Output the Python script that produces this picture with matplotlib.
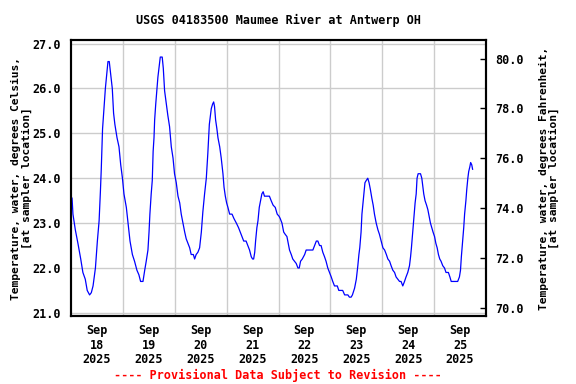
"""
USGS 04183500 Maumee River at Antwerp OH - water temperature, Sep 18-25 2025.
Saves out.png.
"""
import matplotlib
matplotlib.use("Agg")
import matplotlib.pyplot as plt

# hours since 2025-09-18 00:00
hours = [
    0.0, 0.5, 0.9, 2.0, 3.2, 4.5, 5.5, 6.6, 7.5, 8.6, 9.4, 10.2, 11.3, 12.2, 13.0,
    13.6, 14.0, 14.6, 15.2, 15.9, 16.5, 17.1, 17.7, 18.3, 19.1, 19.7, 20.3, 21.3,
    22.2, 23.0, 23.8, 24.5, 25.6, 26.4, 27.3, 28.4, 29.4, 30.5, 31.4, 32.2, 33.3,
    34.1, 34.8, 35.6, 36.1, 36.5, 37.1, 37.6, 38.0, 38.4, 38.7, 39.2, 39.8, 40.2,
    40.7, 41.3, 42.2, 42.7, 43.3, 44.1, 44.8, 45.6, 46.4, 47.2, 47.9, 48.7, 49.5,
    50.3, 51.0, 51.8, 52.6, 53.3, 54.1, 54.9, 55.6, 56.6, 57.2, 57.9, 58.7, 59.5,
    60.3, 61.0, 61.8, 62.6, 63.3, 64.0, 64.5, 64.9, 65.5, 66.0, 66.4, 66.9, 67.5,
    68.0, 68.8, 69.5, 70.3, 70.8, 71.4, 72.0, 72.6, 73.4, 74.5, 75.4, 76.5, 77.5,
    78.7, 79.9, 81.0, 81.8, 82.6, 83.4, 84.0, 84.5, 85.0, 85.4, 86.0, 86.5, 87.1,
    87.7, 88.3, 88.9, 89.5, 90.6, 91.8, 92.6, 93.5, 94.5, 95.4, 96.3, 96.8, 97.6,
    98.4, 99.1, 99.9, 100.3, 101.1, 101.9, 102.6, 103.4, 104.2, 105.0, 105.6,
    106.2, 107.0, 108.1, 108.8, 110.4, 111.9, 112.7, 113.5, 114.2, 115.0, 115.7,
    116.5, 117.3, 118.0, 118.8, 119.6, 120.4, 121.1, 121.9, 123.2, 123.9, 125.7,
    126.6, 128.1, 128.8, 129.6, 130.2, 131.2, 132.0, 132.7, 133.2, 133.6, 134.2,
    134.6, 135.1, 135.5, 136.0, 136.6, 137.3, 137.9, 138.5, 139.2, 139.8, 140.4,
    141.2, 142.0, 142.7, 143.5, 144.3, 145.1, 145.9, 146.6, 147.4, 148.1, 148.9,
    149.7, 150.4, 151.2, 152.0, 152.7, 153.5, 154.3, 155.0, 155.8, 156.6, 157.1,
    157.5, 158.1, 158.7, 159.2, 159.7, 160.1, 160.6, 161.7, 162.3, 162.8, 163.2,
    163.8, 164.5, 165.1, 165.7, 166.3, 166.9, 167.5, 168.2, 168.8, 169.4, 170.0,
    170.6, 171.2, 172.0, 172.8, 173.5, 174.6, 175.3, 175.9, 177.4, 178.9, 179.7,
    180.2, 180.6, 181.1, 181.7, 182.1, 182.7, 183.1, 183.6, 184.0, 184.5, 184.9,
    185.4, 185.8,
]
temp_c = [
    23.6, 23.55, 23.2, 22.85, 22.55, 22.2, 21.9, 21.75, 21.5, 21.4, 21.45, 21.6,
    22.0, 22.6, 23.05, 23.7, 24.2, 25.1, 25.5, 26.0, 26.3, 26.6, 26.6, 26.35, 26.0,
    25.45, 25.2, 24.9, 24.7, 24.3, 24.0, 23.65, 23.35, 23.0, 22.6, 22.3, 22.15,
    21.95, 21.85, 21.7, 21.7, 21.95, 22.15, 22.4, 22.8, 23.2, 23.65, 23.95, 24.6,
    24.9, 25.3, 25.65, 26.0, 26.25, 26.45, 26.7, 26.7, 26.45, 25.95, 25.65, 25.4,
    25.15, 24.7, 24.45, 24.1, 23.9, 23.6, 23.45, 23.2, 23.0, 22.8, 22.65, 22.55,
    22.45, 22.3, 22.3, 22.2, 22.3, 22.35, 22.45, 22.8, 23.25, 23.65, 24.0, 24.55,
    25.2, 25.4, 25.55, 25.65, 25.7, 25.6, 25.3, 25.1, 24.9, 24.7, 24.45, 24.1,
    23.8, 23.6, 23.45, 23.35, 23.2, 23.2, 23.1, 23.0, 22.9, 22.75, 22.6, 22.6,
    22.5, 22.4, 22.25, 22.2, 22.2, 22.35, 22.6, 22.9, 23.05, 23.35, 23.5, 23.65,
    23.7, 23.6, 23.6, 23.6, 23.5, 23.4, 23.35, 23.2, 23.15, 23.1, 23.0, 22.8,
    22.75, 22.7, 22.6, 22.4, 22.3, 22.2, 22.15, 22.1, 22.0, 22.0, 22.15, 22.2,
    22.3, 22.4, 22.4, 22.4, 22.5, 22.6, 22.6, 22.5, 22.5, 22.35, 22.25, 22.15,
    22.0, 21.9, 21.8, 21.7, 21.6, 21.6, 21.5, 21.5, 21.4, 21.4, 21.35, 21.35,
    21.4, 21.55, 21.75, 22.05, 22.3, 22.45, 22.8, 23.2, 23.45, 23.65, 23.9, 23.95,
    24.0, 23.9, 23.75, 23.55, 23.4, 23.2, 23.0, 22.85, 22.75, 22.6, 22.45, 22.4,
    22.3, 22.2, 22.15, 22.05, 21.95, 21.9, 21.8, 21.75, 21.7, 21.7, 21.6, 21.7,
    21.8, 21.9, 22.05, 22.25, 22.45, 22.8, 23.15, 23.45, 23.65, 24.0, 24.1, 24.1,
    24.0, 23.8, 23.65, 23.5, 23.4, 23.3, 23.15, 23.0, 22.9, 22.8, 22.7, 22.55,
    22.45, 22.3, 22.2, 22.15, 22.05, 22.0, 21.9, 21.9, 21.8, 21.7, 21.7, 21.7,
    21.8, 21.95, 22.25, 22.55, 22.9, 23.2, 23.5, 23.75, 24.0, 24.15, 24.25, 24.35,
    24.3, 24.2,
]
day_labels = ["Sep\n18\n2025", "Sep\n19\n2025", "Sep\n20\n2025", "Sep\n21\n2025",
              "Sep\n22\n2025", "Sep\n23\n2025", "Sep\n24\n2025", "Sep\n25\n2025"]
c_ticks = [21, 22, 23, 24, 25, 26, 27]
f_ticks = [70, 72, 74, 76, 78, 80]

FONT = "DejaVu Sans Mono"
FS = 8.5
LFS = 8.1
plt.rcParams["font.family"] = FONT
plt.rcParams["font.weight"] = "bold"

fig = plt.figure(figsize=(5.76, 3.84), dpi=100)
ax = fig.add_axes([71 / 576, 68 / 384, 415 / 576, 276 / 384])

ax.plot(hours, temp_c, color="#0000ff", linewidth=0.9, zorder=3)

ylo, yhi = 20.93, 27.08
ax.set_xlim(0, 192)
ax.set_ylim(ylo, yhi)

# grid at day boundaries, labels at noon
ax.set_xticks([24 * i for i in range(1, 8)], minor=True)
ax.set_xticks([12 + 24 * i for i in range(8)])
ax.set_xticklabels(day_labels, fontsize=FS, fontweight="bold", linespacing=1.15)
ax.grid(which="minor", axis="x", color="#cccccc", linewidth=1.0)
ax.tick_params(axis="x", which="both", length=0, pad=6)

ax.set_yticks(c_ticks)
ax.set_yticklabels([f"{v:.1f}" for v in c_ticks], fontsize=FS, fontweight="bold")
ax.grid(which="major", axis="y", color="#cccccc", linewidth=1.0)
ax.tick_params(axis="y", length=0, pad=7)
ax.set_axisbelow(True)

for s in ax.spines.values():
    s.set_linewidth(1.5)
    s.set_color("black")

ax.set_ylabel("Temperature, water, degrees Celsius,\n[at sampler location]",
              fontsize=LFS, fontweight="bold", linespacing=1.05)
ax.yaxis.set_label_coords(-0.094, 0.5)

ax2 = ax.twinx()
ax2.set_ylim(ylo * 1.8 + 32, yhi * 1.8 + 32)
ax2.set_yticks(f_ticks)
ax2.set_yticklabels([f"{v:.1f}" for v in f_ticks], fontsize=FS, fontweight="bold")
ax2.tick_params(axis="y", direction="in", length=4, width=1, pad=7)
ax2.set_ylabel("Temperature, water, degrees Fahrenheit,\n[at sampler location]",
               fontsize=LFS, fontweight="bold", linespacing=1.05)
ax2.yaxis.set_label_coords(1.127, 0.5)
for s in ax2.spines.values():
    s.set_linewidth(1.5)

fig.text(0.483, 1 - 20 / 384, "USGS 04183500 Maumee River at Antwerp OH",
         ha="center", va="center", fontsize=FS, fontweight="bold")
fig.text(0.483, 1 - 375 / 384, "---- Provisional Data Subject to Revision ----",
         ha="center", va="center", fontsize=FS, fontweight="bold", color="#ff0000")

fig.savefig("out.png", dpi=100)
